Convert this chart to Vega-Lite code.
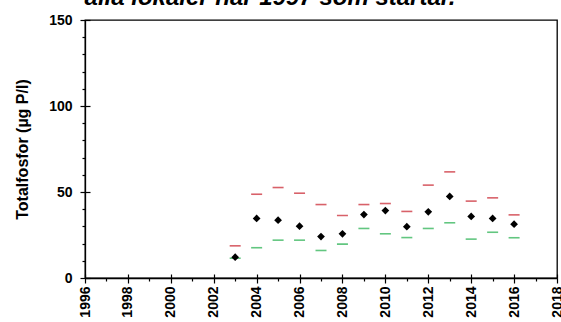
{
  "$schema": "https://vega.github.io/schema/vega-lite/v6.json",
  "autosize": {"type": "none"},
  "width": 472,
  "height": 258,
  "padding": {"left": 85, "top": 20, "right": 4, "bottom": 44},
  "title": {
    "text": "alla lokaler när 1997 som startår.",
    "font": "Liberation Sans",
    "fontSize": 24,
    "fontStyle": "italic",
    "fontWeight": "bold",
    "color": "black",
    "anchor": "middle",
    "dx": -51,
    "dy": 16,
    "baseline": "alphabetic",
    "offset": 0
  },
  "data": {
    "values": [
      {"year": 2003, "medel": 12.1, "max": 18.7, "min": 11.5},
      {"year": 2004, "medel": 34.6, "max": 48.7, "min": 17.6},
      {"year": 2005, "medel": 33.6, "max": 52.6, "min": 22.0},
      {"year": 2006, "medel": 30.1, "max": 49.3, "min": 22.0},
      {"year": 2007, "medel": 24.1, "max": 42.7, "min": 16.0},
      {"year": 2008, "medel": 25.7, "max": 36.3, "min": 19.7},
      {"year": 2009, "medel": 36.9, "max": 42.7, "min": 28.8},
      {"year": 2010, "medel": 39.2, "max": 43.3, "min": 25.7},
      {"year": 2011, "medel": 29.8, "max": 38.7, "min": 23.5},
      {"year": 2012, "medel": 38.5, "max": 54.0, "min": 28.8},
      {"year": 2013, "medel": 47.4, "max": 61.7, "min": 32.1},
      {"year": 2014, "medel": 35.8, "max": 44.7, "min": 22.6},
      {"year": 2015, "medel": 34.6, "max": 46.6, "min": 26.6},
      {"year": 2016, "medel": 31.3, "max": 36.7, "min": 23.4}
    ]
  },
  "layer": [
    {
      "mark": {"type": "tick", "orient": "horizontal", "color": "#c81e2a", "size": 11, "thickness": 1.6},
      "encoding": {
        "x": {
          "field": "year", "type": "quantitative",
          "scale": {"domain": [1996, 2018], "nice": false, "zero": false},
          "axis": {
            "orient": "bottom",
            "values": [1996,1998,2000,2002,2004,2006,2008,2010,2012,2014,2016,2018],
            "labels": false, "domain": false, "grid": false, "title": null,
            "tickColor": "black", "tickWidth": 1.2, "tickSize": -4
          }
        },
        "y": {
          "field": "max", "type": "quantitative",
          "scale": {"domain": [0, 150], "nice": false},
          "axis": {
            "orient": "left",
            "values": [0, 50, 100, 150],
            "labels": false, "domain": false, "grid": false, "title": null,
            "tickColor": "black", "tickWidth": 1.2, "tickSize": -5
          }
        }
      }
    },
    {
      "mark": {"type": "tick", "orient": "horizontal", "color": "#1fae4a", "size": 11, "thickness": 1.6},
      "encoding": {
        "x": {"field": "year", "type": "quantitative", "axis": null},
        "y": {"field": "min", "type": "quantitative", "axis": null}
      }
    },
    {
      "mark": {"type": "point", "shape": "diamond", "filled": true, "color": "black", "size": 60, "opacity": 1},
      "encoding": {
        "x": {
          "field": "year", "type": "quantitative",
          "axis": {
            "orient": "bottom",
            "values": [1996,1997,1998,1999,2000,2001,2002,2003,2004,2005,2006,2007,2008,2009,2010,2011,2012,2013,2014,2015,2016,2017,2018],
            "labelExpr": "datum.value % 2 === 0 ? datum.label : ''",
            "format": "d",
            "labelAngle": 270, "labelAlign": "right", "labelBaseline": "middle",
            "labelPadding": 3,
            "labelFont": "Liberation Sans", "labelFontSize": 14, "labelFontWeight": "bold", "labelColor": "black",
            "domainColor": "black", "domainWidth": 1.3, "grid": false, "title": null,
            "tickColor": "black", "tickWidth": 1.2,
            "tickSize": {"condition": {"test": "datum.value % 2 === 0", "value": 5}, "value": 3},
            "labelOverlap": false, "labelFlush": false
          }
        },
        "y": {
          "field": "medel", "type": "quantitative",
          "axis": {
            "orient": "left",
            "values": [0,10,20,30,40,50,60,70,80,90,100,110,120,130,140,150],
            "labelExpr": "datum.value % 50 === 0 ? datum.label : ''",
            "labelPadding": 8,
            "labelFont": "Liberation Sans", "labelFontSize": 14, "labelFontWeight": "bold", "labelColor": "black",
            "domainColor": "black", "domainWidth": 1.3, "grid": false,
            "tickColor": "black", "tickWidth": 1.2,
            "tickSize": {"condition": {"test": "datum.value % 50 === 0", "value": 5}, "value": 3},
            "labelOverlap": false, "labelFlush": false,
            "title": "Totalfosfor (µg P/l)",
            "titleFont": "Liberation Sans", "titleFontSize": 16, "titleFontWeight": "bold", "titleColor": "black",
            "titlePadding": 18
          }
        }
      }
    }
  ],
  "resolve": {"axis": {"x": "independent", "y": "independent"}},
  "config": {
    "view": {"stroke": "black", "strokeWidth": 1.3},
    "background": "white"
  }
}
